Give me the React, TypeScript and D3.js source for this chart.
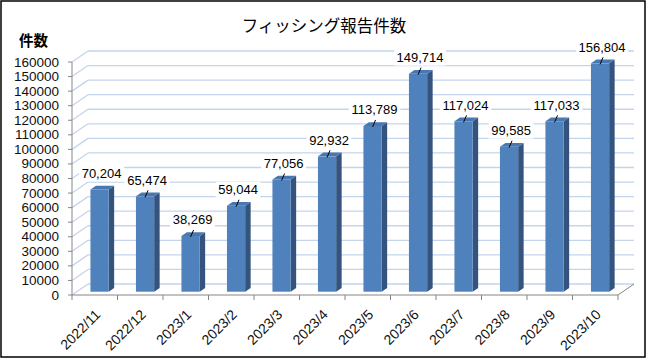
import React from "react";
import * as d3 from "d3";

const categories = ["2022/11","2022/12","2023/1","2023/2","2023/3","2023/4","2023/5","2023/6","2023/7","2023/8","2023/9","2023/10"];
const counts = [70204,65474,38269,59044,77056,92932,113789,149714,117024,99585,117033,156804];
const yTicks = [0,10000,20000,30000,40000,50000,60000,70000,80000,90000,100000,110000,120000,130000,140000,150000,160000];
const title = "フィッシング報告件数";
const yTitle = "件数";

export default function App() {
  const W = 650, H = 360;
  const x = d3.scaleBand<string>().domain(categories).range([72, 618]).padding(0);
  const y = d3.scaleLinear().domain([0, 160000]).range([295, 62]);
  const DX = 16, DY = -11; // wall depth
  const f = 0.3; // bar depth position
  const bw = x.bandwidth();
  const barW = bw * 0.4;
  const sdx = 5.5, sdy = -3.8;
  const fmt = d3.format(",");
  const grid = "#c3d5ec";
  const axis = "#868686";
  const font = "'Liberation Sans', Arial, sans-serif";

  return (
    <svg width={W} height={H} style={{ position: "fixed", left: 0, top: 0, background: "#fff" }}>
      <rect x={1} y={1} width={644} height={356} fill="#fff" stroke="#000" strokeWidth={1.5} />
      <text x={324} y={25} textAnchor="middle" dominantBaseline="central" fontFamily="'Noto Sans CJK JP', sans-serif" fontSize={16.5}>{title}</text>
      <text x={19} y={39} dominantBaseline="central" fontFamily="'Noto Sans CJK JP', sans-serif" fontSize={14.5} fontWeight="bold">{yTitle}</text>
      {yTicks.map((t) => (
        <g key={"g" + t}>
          <line x1={72} y1={y(t)} x2={72 + DX} y2={y(t) + DY} stroke={grid} strokeWidth={1.3} />
          <line x1={72 + DX} y1={y(t) + DY} x2={618 + DX} y2={y(t) + DY} stroke={grid} strokeWidth={1.3} />
        </g>
      ))}
      <line x1={72} y1={y(0)} x2={72} y2={y(160000)} stroke={axis} strokeWidth={1} />
      {yTicks.map((t) => (
        <g key={"t" + t}>
          <line x1={68} y1={y(t)} x2={72} y2={y(t)} stroke={axis} />
          <text x={59} y={y(t)} textAnchor="end" dominantBaseline="central" fontFamily={font} fontSize={13.5} fill="#111">{t}</text>
        </g>
      ))}
      <line x1={72} y1={y(0)} x2={618} y2={y(0)} stroke={axis} />
      <line x1={618} y1={y(0)} x2={618 + DX} y2={y(0) + DY} stroke={axis} />
      {[...categories.map((c) => x(c) as number), 618].map((px, i) => (
        <line key={"xt" + i} x1={px} y1={y(0)} x2={px} y2={y(0) + 5} stroke={axis} />
      ))}
      {categories.map((c) => (
        <text key={"xl" + c} transform={`translate(${(x(c) as number) + bw / 2 + 3},${312}) rotate(-45)`} textAnchor="end" dominantBaseline="central" fontFamily={font} fontSize={14} fill="#111">{c}</text>
      ))}
      {categories.map((c, i) => {
        const v = counts[i];
        const x0 = (x(c) as number) + bw / 2 - barW / 2 + f * DX;
        const bottom = y(0) + f * DY;
        const top = y(v) + f * DY;
        const x1 = x0 + barW;
        return (
          <g key={"b" + c}>
            <polygon points={`${x1},${top} ${x1 + sdx},${top + sdy} ${x1 + sdx},${bottom + sdy} ${x1},${bottom}`} fill="#34547d" />
            <polygon points={`${x0},${top} ${x0 + sdx},${top + sdy} ${x1 + sdx},${top + sdy} ${x1},${top}`} fill="#4977b0" />
            <rect x={x0} y={top} width={barW} height={bottom - top} fill="#4f81bd" />
          </g>
        );
      })}
      {categories.map((c, i) => {
        const v = counts[i];
        const x0 = (x(c) as number) + bw / 2 - barW / 2 + f * DX;
        const top = y(v) + f * DY;
        const fc = x0 + barW / 2;
        const lx = fc + 2;
        const ly = top - 16;
        const label = fmt(v);
        const tw = label.length * 6.8;
        return (
          <g key={"l" + c}>
            <rect x={lx - tw / 2 - 2} y={ly - 8} width={tw + 4} height={16} fill="#fff" />
            {i > 0 && <line x1={fc} y1={top + 1} x2={fc + 3} y2={top - 6} stroke="#000" strokeWidth={1} />}
            <text x={lx} y={ly} textAnchor="middle" dominantBaseline="central" fontFamily={font} fontSize={13} fill="#000">{label}</text>
          </g>
        );
      })}
    </svg>
  );
}
